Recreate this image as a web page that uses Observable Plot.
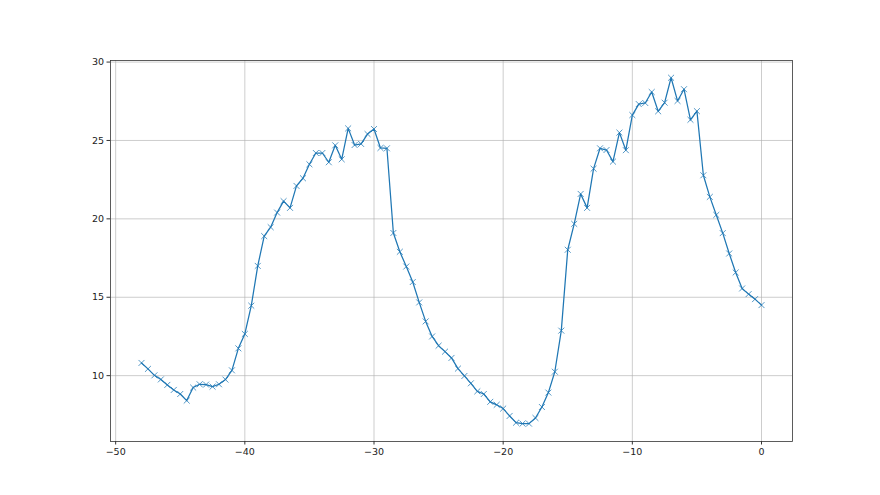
<!DOCTYPE html>
<html>
<head>
<meta charset="utf-8">
<script src="https://cdn.jsdelivr.net/npm/d3@7"></script>
<script src="https://cdn.jsdelivr.net/npm/@observablehq/plot@0.6"></script>
<style>
  html, body { margin: 0; padding: 0; background: #fff; }
  #chart { width: 880px; height: 495px; }
  svg { font-family: "DejaVu Sans", sans-serif; }
</style>
</head>
<body>
<div id="chart"></div>
<script>
const xValues = [
  -48, -47.5, -47, -46.5, -46, -45.5, -45, -44.5, -44, -43.5,
  -43, -42.5, -42, -41.5, -41, -40.5, -40, -39.5, -39, -38.5,
  -38, -37.5, -37, -36.5, -36, -35.5, -35, -34.5, -34, -33.5,
  -33, -32.5, -32, -31.5, -31, -30.5, -30, -29.5, -29, -28.5,
  -28, -27.5, -27, -26.5, -26, -25.5, -25, -24.5, -24, -23.5,
  -23, -22.5, -22, -21.5, -21, -20.5, -20, -19.5, -19, -18.5,
  -18, -17.5, -17, -16.5, -16, -15.5, -15, -14.5, -14, -13.5,
  -13, -12.5, -12, -11.5, -11, -10.5, -10, -9.5, -9, -8.5,
  -8, -7.5, -7, -6.5, -6, -5.5, -5, -4.5, -4, -3.5,
  -3, -2.5, -2, -1.5, -1, -0.5, 0
];
const yValues = [
  10.81, 10.43, 10.02, 9.76, 9.41, 9.09, 8.83, 8.41, 9.24, 9.45,
  9.43, 9.30, 9.45, 9.75, 10.34, 11.74, 12.66, 14.46, 17.00, 18.90,
  19.47, 20.40, 21.13, 20.70, 22.10, 22.59, 23.48, 24.20, 24.20, 23.61,
  24.69, 23.80, 25.77, 24.71, 24.78, 25.41, 25.73, 24.52, 24.50, 19.10,
  17.90, 16.96, 15.97, 14.67, 13.46, 12.50, 11.91, 11.53, 11.13, 10.45,
  9.98, 9.51, 9.00, 8.83, 8.33, 8.14, 7.90, 7.43, 7.00, 6.94,
  6.94, 7.30, 8.00, 8.92, 10.25, 12.87, 18.03, 19.68, 21.59, 20.70,
  23.20, 24.50, 24.39, 23.65, 25.50, 24.38, 26.62, 27.32, 27.39, 28.09,
  26.86, 27.41, 29.00, 27.52, 28.27, 26.32, 26.87, 22.78, 21.40, 20.25,
  19.09, 17.79, 16.58, 15.56, 15.20, 14.88, 14.50
];
const xTicks = [-50, -40, -30, -20, -10, 0];
const yTicks = [10, 15, 20, 25, 30];

const data = xValues.map((x, i) => ({x, y: yValues[i]}));
const fmt = d => String(d).replace("-", "\u2212");

const chart = Plot.plot({
  width: 880,
  height: 495,
  marginLeft: 110,
  marginRight: 88,
  marginTop: 60,
  marginBottom: 54,
  style: {fontFamily: "DejaVu Sans, sans-serif", fontSize: "9.5px", color: "#222", background: "#fff"},
  x: {domain: [-50.4, 2.4], ticks: xTicks, tickFormat: fmt, label: null, tickSize: 3.5, tickPadding: 3},
  y: {domain: [5.8, 30.1], ticks: yTicks, tickFormat: fmt, label: null, tickSize: 3.5, tickPadding: 3},
  marks: [
    Plot.gridX(xTicks, {stroke: "#b0b0b0", strokeOpacity: 0.8, strokeWidth: 0.8}),
    Plot.gridY(yTicks, {stroke: "#b0b0b0", strokeOpacity: 0.8, strokeWidth: 0.8}),
    Plot.line(data, {x: "x", y: "y", stroke: "#1f77b4", strokeWidth: 1.25}),
    Plot.dot(data, {x: "x", y: "y", symbol: "times", r: 2.8, stroke: "#1f77b4", strokeWidth: 0.9, strokeOpacity: 0.85}),
    Plot.frame({stroke: "#333", strokeWidth: 0.8}),
    Plot.axisX({ticks: xTicks, tickFormat: fmt, tickSize: 3.5, tickPadding: 3, label: null, stroke: "#333"}),
    Plot.axisY({ticks: yTicks, tickFormat: fmt, tickSize: 3.5, tickPadding: 3, label: null, stroke: "#333"})
  ]
});
document.getElementById("chart").appendChild(chart);
</script>
</body>
</html>
